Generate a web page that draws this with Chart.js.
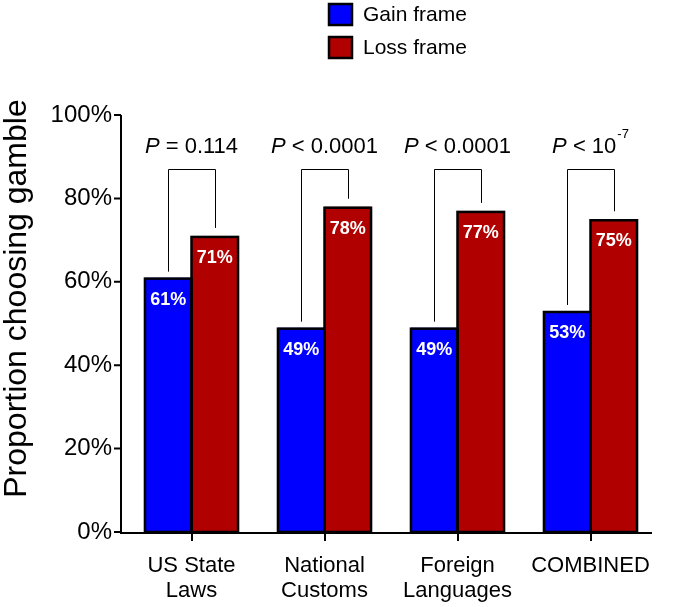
<!DOCTYPE html>
<html>
<head>
<meta charset="utf-8">
<script src="https://cdn.jsdelivr.net/npm/chart.js@4.4.1/dist/chart.umd.min.js"></script>
<style>
  html, body { margin: 0; padding: 0; background: #fff; }
  #wrap { width: 673px; height: 607px; }
</style>
</head>
<body>
<div id="wrap"><canvas id="framingChart" width="673" height="607"></canvas></div>
<script>
const categories = [['US State', 'Laws'], ['National', 'Customs'], ['Foreign', 'Languages'], 'COMBINED'];
const gainValues = [61, 49, 49, 53];
const lossValues = [71, 78, 77, 75];
const seriesNames = ['Gain frame', 'Loss frame'];
const pValues = [['= 0.114', null], ['< 0.0001', null], ['< 0.0001', null], ['< 10', '-7']];
const yTicks = [0, 20, 40, 60, 80, 100];
const yTitle = 'Proportion choosing gamble';

const FONT = "'Liberation Sans', Arial, Helvetica, sans-serif";
const BLUE = '#0000ff';
const RED = '#b00000';

Chart.defaults.font.family = FONT;
Chart.defaults.color = '#000';

// outlines, axes lines, y title, legend, p-value brackets and the white labels inside the bars
const extras = {
    id: 'extras',
    afterDatasetsDraw(chart) {
        const ctx = chart.ctx;
        const y = chart.scales.y;
        const area = chart.chartArea;
        const gain = chart.getDatasetMeta(0).data;
        const loss = chart.getDatasetMeta(1).data;
        ctx.save();

        // bar outlines, so neighbouring bars share one edge
        ctx.strokeStyle = '#000';
        ctx.lineWidth = 2.5;
        gain.concat(loss).forEach(function (bar) {
            const left = bar.x - bar.width / 2;
            ctx.strokeRect(left, bar.y + 1, bar.width, bar.base - bar.y - 1);
        });

        // axis lines (y axis sits a few px left of the plot area)
        const axisX = area.left - 4;
        ctx.lineWidth = 2;
        ctx.beginPath();
        ctx.moveTo(axisX, area.top);
        ctx.lineTo(axisX, area.bottom + 1);
        ctx.lineTo(area.right - 5, area.bottom + 1);
        yTicks.forEach(function (v) {
            const py = y.getPixelForValue(v);
            ctx.moveTo(axisX - 7, py);
            ctx.lineTo(axisX, py);
        });
        ctx.stroke();

        // y title
        ctx.save();
        ctx.translate(17, (area.top + area.bottom) / 2 - 25);
        ctx.rotate(-Math.PI / 2);
        ctx.font = '32px ' + FONT;
        ctx.fillStyle = '#000';
        ctx.textAlign = 'center';
        ctx.textBaseline = 'middle';
        ctx.fillText(yTitle, 0, 0);
        ctx.restore();

        // value labels
        ctx.fillStyle = '#fff';
        ctx.font = 'bold 18px ' + FONT;
        ctx.textAlign = 'center';
        ctx.textBaseline = 'middle';
        [gain, loss].forEach(function (bars, d) {
            const vals = d === 0 ? gainValues : lossValues;
            bars.forEach(function (bar, i) {
                ctx.fillText(vals[i] + '%', bar.x, bar.y + 22);
            });
        });

        // brackets
        const topY = Math.round(y.getPixelForValue(87)) + 0.5;
        ctx.strokeStyle = '#000';
        ctx.lineWidth = 1;
        gain.forEach(function (g, i) {
            const l = loss[i];
            const gx = Math.round(g.x) + 0.5;
            const lx = Math.round(l.x) + 0.5;
            ctx.beginPath();
            ctx.moveTo(gx, g.y - 6);
            ctx.lineTo(gx, topY);
            ctx.lineTo(lx, topY);
            ctx.lineTo(lx, l.y - 8);
            ctx.stroke();
        });

        // p values
        const textY = y.getPixelForValue(92.3);
        ctx.fillStyle = '#000';
        ctx.textAlign = 'left';
        ctx.textBaseline = 'middle';
        pValues.forEach(function (p, i) {
            const cx = chart.scales.x.getPixelForValue(i);
            ctx.font = 'italic 22px ' + FONT;
            const wP = ctx.measureText('P').width;
            ctx.font = '22px ' + FONT;
            const wRest = ctx.measureText(' ' + p[0]).width;
            let wSup = 0;
            if (p[1]) {
                ctx.font = '13px ' + FONT;
                wSup = ctx.measureText(p[1]).width + 1;
            }
            let x = cx - (wP + wRest + wSup) / 2;
            ctx.font = 'italic 22px ' + FONT;
            ctx.fillText('P', x, textY);
            x += wP;
            ctx.font = '22px ' + FONT;
            ctx.fillText(' ' + p[0], x, textY);
            x += wRest;
            if (p[1]) {
                ctx.font = '13px ' + FONT;
                ctx.fillText(p[1], x + 1, textY - 13);
            }
        });

        // legend
        const colors = [BLUE, RED];
        ctx.lineWidth = 2.5;
        ctx.strokeStyle = '#000';
        ctx.font = '21px ' + FONT;
        seriesNames.forEach(function (name, i) {
            const by = 4 + i * 33;
            ctx.fillStyle = colors[i];
            ctx.fillRect(329, by, 23, 21);
            ctx.strokeRect(329, by, 23, 21);
            ctx.fillStyle = '#000';
            ctx.fillText(name, 363, by + 11);
        });

        ctx.restore();
    }
};

new Chart(document.getElementById('framingChart'), {
    type: 'bar',
    data: {
        labels: categories,
        datasets: [{
            label: seriesNames[0],
            data: gainValues,
            backgroundColor: BLUE,
            borderWidth: 0,
            categoryPercentage: 0.7,
            barPercentage: 1.0,
        }, {
            label: seriesNames[1],
            data: lossValues,
            backgroundColor: RED,
            borderWidth: 0,
            categoryPercentage: 0.7,
            barPercentage: 1.0,
        }],
    },
    options: {
        responsive: false,
        animation: false,
        layout: { padding: { top: 115, right: 16, bottom: 0, left: 0 } },
        plugins: {
            legend: { display: false },
            tooltip: { enabled: false },
        },
        scales: {
            x: {
                grid: {
                    offset: false,
                    drawOnChartArea: false,
                    tickLength: 9,
                    color: '#000',
                    lineWidth: 2,
                },
                border: { display: false },
                ticks: {
                    font: { size: 22, lineHeight: 1.14 },
                    color: '#000',
                    padding: 12,
                    maxRotation: 0,
                },
                afterFit: function (s) { s.height = 75; },
            },
            y: {
                min: 0,
                max: 100,
                afterBuildTicks: function (s) {
                    s.ticks = yTicks.map(function (v) { return { value: v }; });
                },
                grid: { display: false, drawTicks: false },
                border: { display: false },
                ticks: {
                    font: { size: 24 },
                    color: '#000',
                    padding: 13,
                    callback: function (v) { return v + '%'; },
                },
                afterFit: function (s) { s.width = 125; },
            },
        },
    },
    plugins: [extras],
});
</script>
</body>
</html>
